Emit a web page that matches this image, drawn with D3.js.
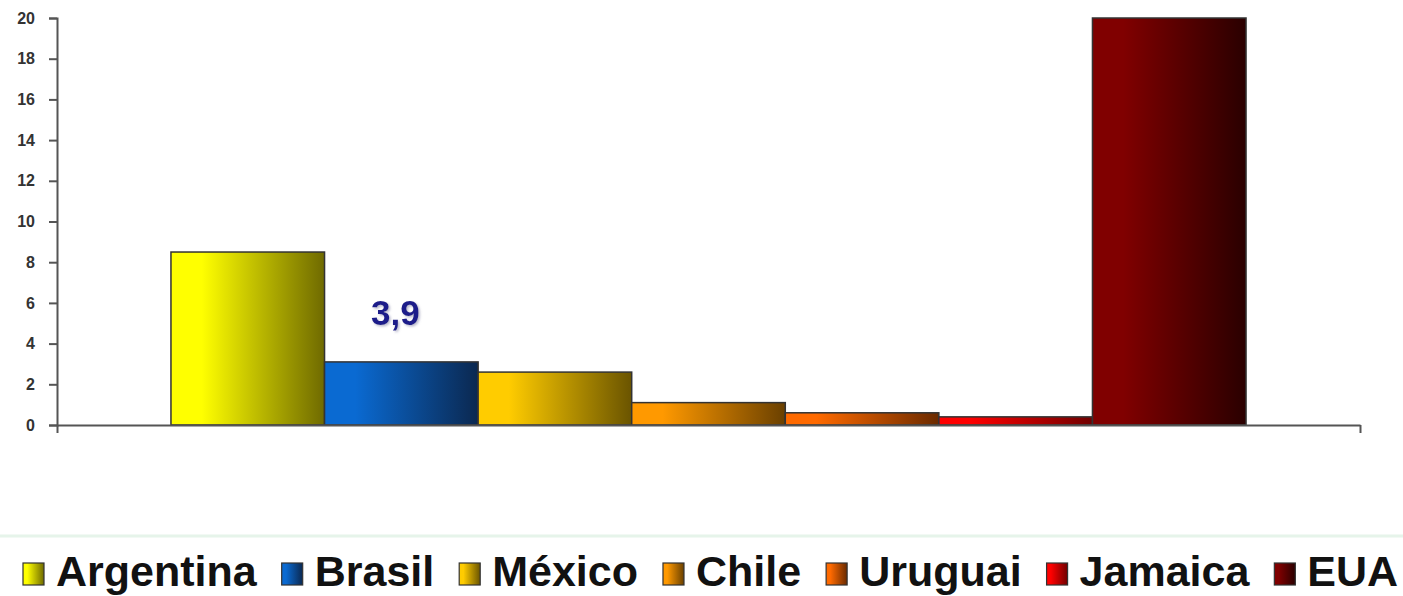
<!DOCTYPE html>
<html>
<head>
<meta charset="utf-8">
<script src="https://cdn.jsdelivr.net/npm/d3@7"></script>
<style>
  html, body { margin: 0; padding: 0; background: #ffffff; }
  svg { display: block; }
</style>
</head>
<body>
<svg id="chart" width="1403" height="596"></svg>
<script>
// ---- data ----
const group = [""];
const series = ["Argentina", "Brasil", "México", "Chile", "Uruguai", "Jamaica", "EUA"];
const values = [8.5, 3.1, 2.6, 1.1, 0.6, 0.4, 20];
const dataLabels = ["", "3,9", "", "", "", "", ""];
const yTicks = [0, 2, 4, 6, 8, 10, 12, 14, 16, 18, 20];
const colorLight = ["#ffff00", "#0a6ad2", "#ffcc00", "#ff9900", "#ff6a00", "#ff0000", "#800000"];
const colorDark  = ["#6f6a00", "#0b2850", "#6a5400", "#6a4000", "#6a2a00", "#700000", "#2a0000"];

const svg = d3.select("#chart");
const defs = svg.append("defs");

series.forEach((s, i) => {
  const g = defs.append("linearGradient")
    .attr("id", "grad" + i)
    .attr("x1", "0%").attr("x2", "100%").attr("y1", "0%").attr("y2", "0%");
  g.append("stop").attr("offset", "0%").attr("stop-color", colorLight[i]);
  g.append("stop").attr("offset", "20%").attr("stop-color", colorLight[i]);
  g.append("stop").attr("offset", "100%").attr("stop-color", colorDark[i]);
});

const shadow = defs.append("filter").attr("id", "tshadow")
  .attr("x", "-20%").attr("y", "-20%").attr("width", "140%").attr("height", "140%");
shadow.append("feDropShadow").attr("dx", 1.5).attr("dy", 1.5)
  .attr("stdDeviation", 1).attr("flood-color", "#8888aa").attr("flood-opacity", 0.6);

// ---- scales ----
const x0 = d3.scaleBand().domain(group).range([57, 1360]).paddingInner(0).paddingOuter(0.106);
const x1 = d3.scaleBand().domain(series).range([0, x0.bandwidth()]).padding(0);
const y = d3.scaleLinear().domain([0, 20]).range([425, 18]);

// ---- bars ----
const gx = x0(group[0]);
svg.append("g").selectAll("rect")
  .data(series)
  .join("rect")
  .attr("x", (d) => gx + x1(d))
  .attr("width", x1.bandwidth())
  .attr("y", (d, i) => y(values[i]))
  .attr("height", (d, i) => y(0) - y(values[i]))
  .attr("fill", (d, i) => `url(#grad${i})`)
  .attr("stroke", "#333333")
  .attr("stroke-width", 1.5);

// ---- data labels ----
svg.append("g").selectAll("text")
  .data(series)
  .join("text")
  .attr("x", (d) => gx + x1(d) + x1.bandwidth() / 2 - 6)
  .attr("y", (d, i) => y(values[i]) - 37)
  .attr("text-anchor", "middle")
  .attr("font-family", "'Liberation Sans', Arial, sans-serif")
  .attr("font-weight", "bold")
  .attr("font-size", 35)
  .attr("fill", "#1c1c8a")
  .attr("filter", "url(#tshadow)")
  .text((d, i) => dataLabels[i]);

// ---- y axis ----
const yAxis = svg.append("g")
  .attr("transform", "translate(57,0)")
  .call(d3.axisLeft(y).tickValues(yTicks).tickSize(8).tickPadding(14).tickFormat(d3.format("d")));
yAxis.select(".domain").attr("stroke", "#555555").attr("stroke-width", 2);
yAxis.selectAll(".tick line").attr("stroke", "#555555").attr("stroke-width", 2);
yAxis.selectAll(".tick text")
  .attr("font-family", "'Liberation Sans', Arial, sans-serif")
  .attr("font-weight", "bold")
  .attr("font-size", 16)
  .attr("fill", "#333333");

// ---- x axis ----
const xLin = d3.scaleLinear().domain([0, 1]).range([57, 1360]);
const xAxis = svg.append("g")
  .attr("transform", `translate(0,${y(0)})`)
  .call(d3.axisBottom(xLin).tickValues([0, 1]).tickSize(8).tickSizeOuter(0).tickFormat(""));
xAxis.select(".domain").attr("stroke", "#555555").attr("stroke-width", 2);
xAxis.selectAll(".tick line").attr("stroke", "#555555").attr("stroke-width", 2);

// ---- legend ----
svg.append("line")
  .attr("x1", 0).attr("x2", 1403).attr("y1", 536).attr("y2", 536)
  .attr("stroke", "#e6f4ea").attr("stroke-width", 3);

const legend = svg.append("g");
let lx = 23;
series.forEach((s, i) => {
  legend.append("rect")
    .attr("x", lx).attr("y", 563)
    .attr("width", 21).attr("height", 22)
    .attr("fill", `url(#grad${i})`)
    .attr("stroke", "#333333").attr("stroke-width", 1.2);
  const t = legend.append("text")
    .attr("x", lx + 33).attr("y", 586)
    .attr("font-family", "'Liberation Sans', Arial, sans-serif")
    .attr("font-weight", "bold")
    .attr("font-size", 43)
    .attr("fill", "#111111")
    .text(s);
  lx = lx + 33 + t.node().getComputedTextLength() + 25;
});
</script>
</body>
</html>
